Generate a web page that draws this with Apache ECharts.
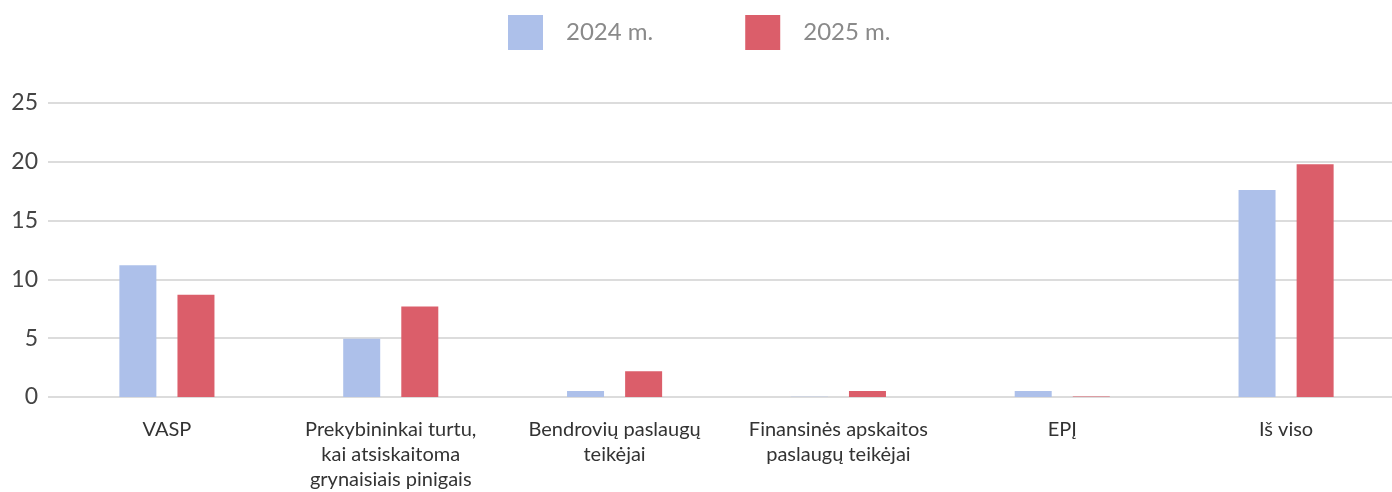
<!DOCTYPE html>
<html><head><meta charset="utf-8">
<script src="https://cdn.jsdelivr.net/npm/echarts@6/dist/echarts.min.js"></script>
<style>html,body{margin:0;padding:0;background:#fff}#c{width:1392px;height:492px}</style>
</head><body><div id="c"></div>
<script>
const categories = ["VASP", "Prekybininkai turtu,\nkai atsiskaitoma\ngrynaisiais pinigais", "Bendrovių paslaugų\nteikėjai", "Finansinės apskaitos\npaslaugų teikėjai", "EPĮ", "Iš viso"];
const series2024 = [11.2, 4.95, 0.5, 0.03, 0.5, 17.6];
const series2025 = [8.7, 7.7, 2.2, 0.5, 0.05, 19.8];
const seriesNames = ["2024 m.", "2025 m."];
const yTicks = {min: 0, max: 25, interval: 5};
const FONT = "Lato";
const chart = echarts.init(document.getElementById('c'), null, {renderer: 'canvas'});
chart.setOption({
  animation: false,
  color: ["#adc0ea", "#db5e6a"],
  legend: {
    top: 10, left: 503,
    itemWidth: 35, itemHeight: 35, itemGap: 92,
    icon: 'rect',
    textStyle: {fontFamily: FONT, fontSize: 24, color: '#8a8a8a', padding: [0, 0, 0, 18]},
    data: seriesNames
  },
  grid: [
    {left: 48, right: 0, top: 103, bottom: 95, containLabel: false, outerBoundsMode: 'none'},
    {left: 55, width: 1343, top: 103, bottom: 95, containLabel: false, outerBoundsMode: 'none'}
  ],
  xAxis: [
    {gridIndex: 0, type: 'category', data: categories, show: false},
    {
      gridIndex: 1, type: 'category', data: categories,
      axisLine: {show: false},
      axisTick: {show: false},
      axisLabel: {fontFamily: FONT, fontSize: 20, color: '#333', margin: 20, lineHeight: 25, interval: 0}
    }
  ],
  yAxis: [
    {
      gridIndex: 0, type: 'value', min: yTicks.min, max: yTicks.max, interval: yTicks.interval,
      axisLine: {show: false}, axisTick: {show: false},
      splitLine: {lineStyle: {color: '#dcdcdc', width: 2}},
      axisLabel: {fontFamily: FONT, fontSize: 23, color: '#444', margin: 10}
    },
    {
      gridIndex: 1, type: 'value', min: yTicks.min, max: yTicks.max, interval: yTicks.interval,
      show: false, splitLine: {show: false}
    }
  ],
  series: [
    {name: seriesNames[0], type: 'bar', xAxisIndex: 1, yAxisIndex: 1, data: series2024, barWidth: 37, barGap: '57%'},
    {name: seriesNames[1], type: 'bar', xAxisIndex: 1, yAxisIndex: 1, data: series2025, barWidth: 37, barGap: '57%'}
  ]
});
</script></body></html>
